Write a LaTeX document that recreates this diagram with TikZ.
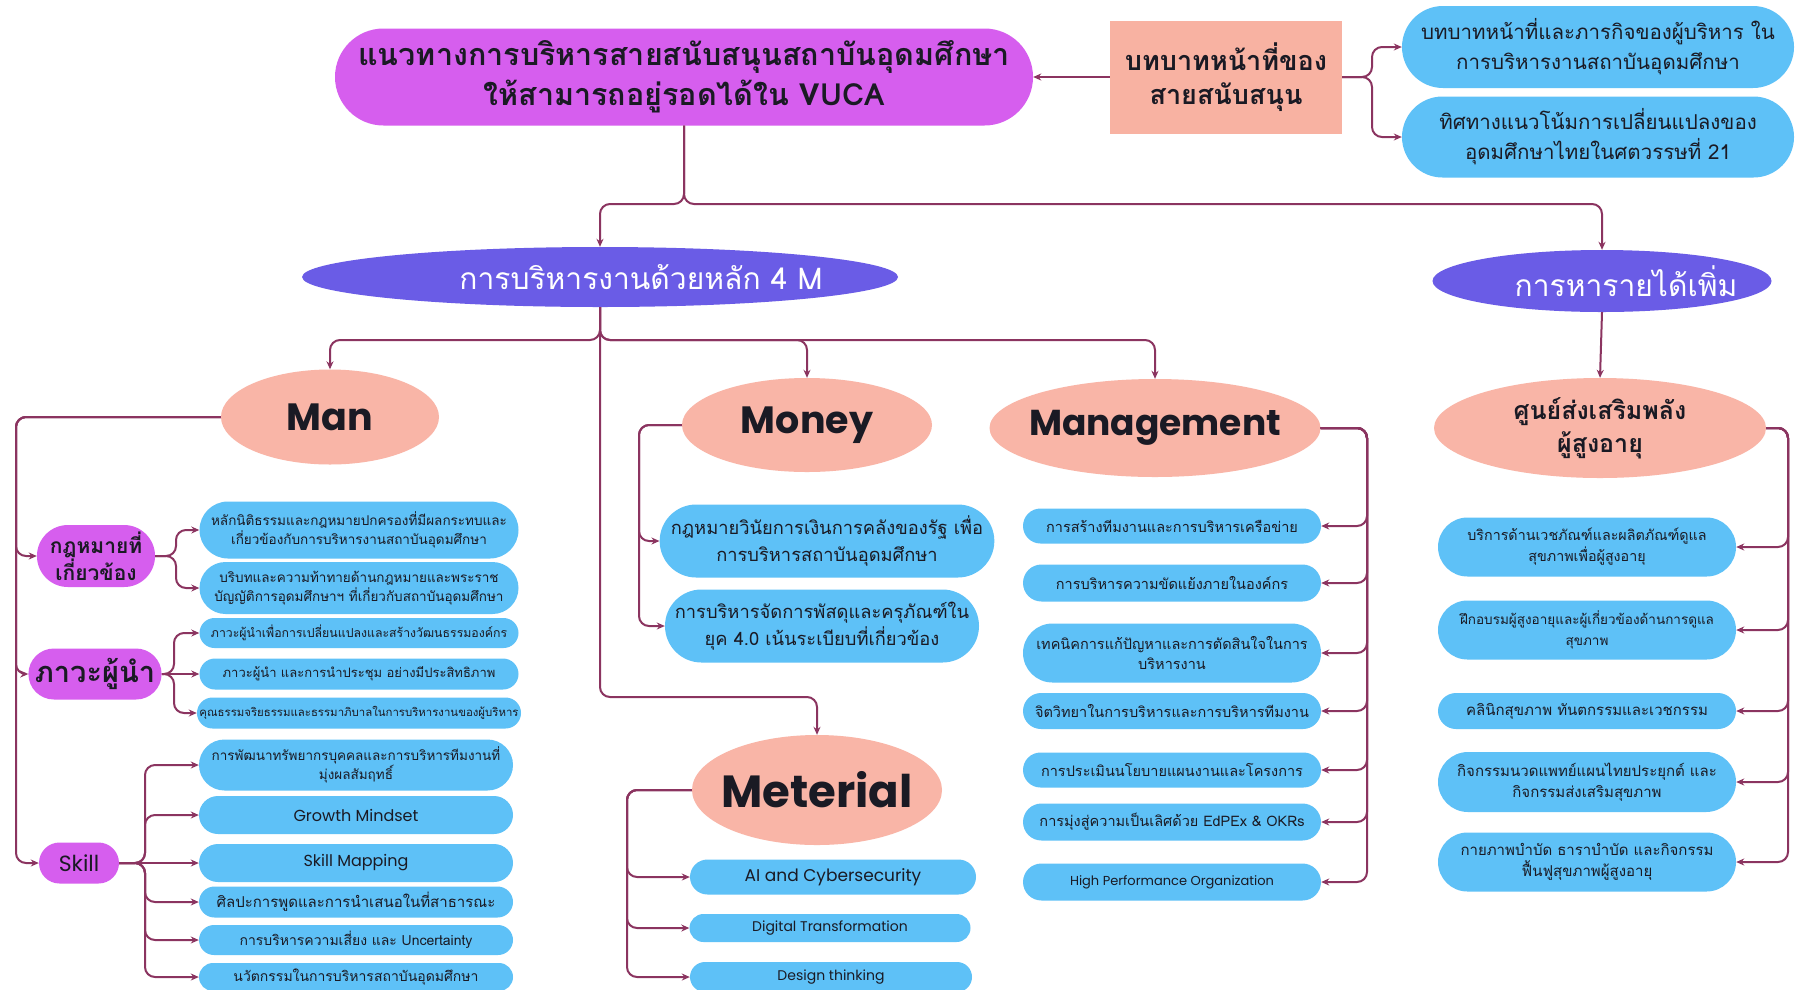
\documentclass[tikz,border=0pt]{standalone}
\usepackage{fontspec}
\usetikzlibrary{shapes.geometric,shapes.misc,arrows.meta}
\newfontfamily\thai[Script=Thai]{Loma}
\newfontfamily\latin{Poppins}
\newcommand\thfs[2]{\thai\fontsize{#1}{#2}\selectfont}
\newcommand\lafs[2]{\latin\fontsize{#1}{#2}\selectfont}
\definecolor{orchid}{HTML}{D65EEE}
\definecolor{skyc}{HTML}{5EC1F7}
\definecolor{violetc}{HTML}{6A5CE6}
\definecolor{salmon}{HTML}{F9B5A7}
\definecolor{salmonbox}{HTML}{F8B2A2}
\definecolor{wirec}{HTML}{8B3460}
\definecolor{ink}{HTML}{1A1A24}
\tikzset{
  wire/.style={draw=wirec, line width=2pt, rounded corners=10pt, -{Stealth[length=8pt,width=7pt]}},
  pillbox/.style={rounded rectangle, inner sep=1pt, align=center, text=ink},
  leaf/.style={pillbox, fill=skyc},
  catpill/.style={pillbox, fill=orchid},
  oval/.style={ellipse, inner sep=0pt, align=center, text=ink},
}
\begin{document}
\begin{tikzpicture}[x=1pt,y=-1pt]
\fill[white] (0,0) rectangle (1798,989);
\useasboundingbox (0,0) rectangle (1798,989);

% ---------- top row ----------
\node[pillbox, fill=orchid, minimum width=700pt, minimum height=97pt, font={\thfs{30.5}{40}\bfseries}] (title) at (684,77)
  {แนวทางการบริหารสายสนับสนุนสถาบันอุดมศึกษา\\ให้สามารถอยู่รอดได้ใน VUCA};
\node[rectangle, fill=salmonbox, minimum width=232pt, minimum height=113pt, align=center, text=ink, font={\thfs{27}{34}\bfseries}] (sup) at (1226,77)
  {บทบาทหน้าที่ของ\\สายสนับสนุน};
\node[leaf, minimum width=394pt, minimum height=82pt, font={\thfs{20.5}{30}}] (r1) at (1598,47)
  {บทบาทหน้าที่และภารกิจของผู้บริหาร ใน\\การบริหารงานสถาบันอุดมศึกษา};
\node[leaf, minimum width=394pt, minimum height=81pt, font={\thfs{20.5}{30}}] (r2) at (1598,137)
  {ทิศทางแนวโน้มการเปลี่ยนแปลงของ\\อุดมศึกษาไทยในศตวรรษที่ 21};

% ---------- second level ----------
\node[oval, fill=violetc, minimum width=596pt, minimum height=60pt, text=white, font={\thfs{30}{36}}] (m4) at (600,277)
  {\makebox[0pt]{\hspace*{82pt}การบริหารงานด้วยหลัก 4 M}};
\node[oval, fill=violetc, minimum width=339pt, minimum height=62pt, text=white, font={\thfs{30}{36}}] (inc) at (1602,281)
  {\makebox[0pt]{\hspace*{48pt}การหารายได้เพิ่ม}};

% ---------- categories ----------
\node[oval, fill=salmon, minimum width=218pt, minimum height=95pt, font={\lafs{38}{44}\bfseries}] (man) at (330,417) {\makebox[0pt]{Man}};
\node[oval, fill=salmon, minimum width=250pt, minimum height=94pt, font={\lafs{38}{44}\bfseries}] (money) at (807,425) {\makebox[0pt]{Money}};
\node[oval, fill=salmon, minimum width=331pt, minimum height=98pt, font={\lafs{36}{44}\bfseries}] (mgmt) at (1155,428) {\makebox[0pt]{Management}};
\node[oval, fill=salmon, minimum width=250pt, minimum height=110pt, font={\lafs{45}{52}\bfseries}] (mat) at (817,790) {\makebox[0pt]{Meterial}};
\node[oval, fill=salmon, minimum width=332pt, minimum height=100pt, font={\thfs{25}{33}\bfseries}] (sen) at (1600,428)
  {ศูนย์ส่งเสริมพลัง\\ผู้สูงอายุ};

% ---------- Man sub-groups ----------
\node[catpill, minimum width=117pt, minimum height=62pt, font={\thfs{21}{26}\bfseries}] (law) at (96,556) {กฎหมายที่\\เกี่ยวข้อง};
\node[catpill, minimum width=114pt, minimum height=51pt, font={\thfs{29}{34}\bfseries}] (lead) at (95,674) {ภาวะผู้นำ};
\node[catpill, minimum width=82pt, minimum height=41pt, font={\lafs{22}{26}}] (skill) at (79,863) {Skill};

\node[leaf, minimum width=321pt, minimum height=57pt, font={\thfs{13.5}{19}}] (l1) at (359,530)
  {หลักนิติธรรมและกฎหมายปกครองที่มีผลกระทบและ\\เกี่ยวข้องกับการบริหารงานสถาบันอุดมศึกษา};
\node[leaf, minimum width=321pt, minimum height=52pt, font={\thfs{13.5}{19}}] (l2) at (359,588)
  {บริบทและความท้าทายด้านกฎหมายและพระราช\\บัญญัติการอุดมศึกษาฯ ที่เกี่ยวกับสถาบันอุดมศึกษา};
\node[leaf, minimum width=321pt, minimum height=30pt, font={\thfs{12.3}{15}}] (l3) at (359,633)
  {ภาวะผู้นำเพื่อการเปลี่ยนแปลงและสร้างวัฒนธรรมองค์กร};
\node[leaf, minimum width=321pt, minimum height=31pt, font={\thfs{13}{16}}] (l4) at (359,674)
  {ภาวะผู้นำ และการนำประชุม อย่างมีประสิทธิภาพ};
\node[leaf, minimum width=321pt, minimum height=31pt, font={\thfs{11.4}{14}}] (l5) at (359,713)
  {คุณธรรมจริยธรรมและธรรมาภิบาลในการบริหารงานของผู้บริหาร};

\node[leaf, minimum width=316pt, minimum height=51pt, font={\thfs{13.5}{19}}] (s1) at (356,765)
  {การพัฒนาทรัพยากรบุคคลและการบริหารทีมงานที่\\มุ่งผลสัมฤทธิ์};
\node[leaf, minimum width=316pt, minimum height=38pt, font={\lafs{16}{20}}] (s2) at (356,815) {Growth Mindset};
\node[leaf, minimum width=316pt, minimum height=38pt, font={\lafs{16}{20}}] (s3) at (356,863) {Skill Mapping};
\node[leaf, minimum width=316pt, minimum height=31pt, font={\thfs{15}{18}}] (s4) at (356,902)
  {ศิลปะการพูดและการนำเสนอในที่สาธารณะ};
\node[leaf, minimum width=316pt, minimum height=30pt, font={\thfs{14}{17}}] (s5) at (356,940)
  {การบริหารความเสี่ยง และ Uncertainty};
\node[leaf, minimum width=316pt, minimum height=28pt, font={\thfs{14}{17}}] (s6) at (356,977)
  {นวัตกรรมในการบริหารสถาบันอุดมศึกษา};

% ---------- Money ----------
\node[leaf, minimum width=326pt, minimum height=73pt, font={\thfs{18.3}{27}}] (mo1) at (827,541)
  {กฎหมายวินัยการเงินการคลังของรัฐ เพื่อ\\การบริหารสถาบันอุดมศึกษา};
\node[leaf, minimum width=316pt, minimum height=73pt, font={\thfs{18.3}{27}}] (mo2) at (822,626)
  {การบริหารจัดการพัสดุและครุภัณฑ์ใน\\ยุค 4.0 เน้นระเบียบที่เกี่ยวข้อง};

% ---------- Meterial ----------
\node[leaf, minimum width=288pt, minimum height=35pt, font={\lafs{17}{20}}] (ma1) at (833,877) {AI and Cybersecurity};
\node[leaf, minimum width=283pt, minimum height=28pt, font={\lafs{14}{17}}] (ma2) at (830,928) {Digital Transformation};
\node[leaf, minimum width=284pt, minimum height=30pt, font={\lafs{14}{17}}] (ma3) at (831,977) {Design thinking};

% ---------- Management ----------
\node[leaf, minimum width=300pt, minimum height=35pt, font={\thfs{14.5}{18}}] (g1) at (1172,526) {การสร้างทีมงานและการบริหารเครือข่าย};
\node[leaf, minimum width=300pt, minimum height=37pt, font={\thfs{14.5}{18}}] (g2) at (1172,583) {การบริหารความขัดแย้งภายในองค์กร};
\node[leaf, minimum width=300pt, minimum height=59pt, font={\thfs{14.5}{20}}] (g3) at (1172,653) {เทคนิคการแก้ปัญหาและการตัดสินใจในการ\\บริหารงาน};
\node[leaf, minimum width=300pt, minimum height=36pt, font={\thfs{14.5}{18}}] (g4) at (1172,711) {จิตวิทยาในการบริหารและการบริหารทีมงาน};
\node[leaf, minimum width=300pt, minimum height=35pt, font={\thfs{14.5}{18}}] (g5) at (1172,770) {การประเมินนโยบายแผนงานและโครงการ};
\node[leaf, minimum width=300pt, minimum height=37pt, font={\thfs{14.5}{18}}] (g6) at (1172,822) {การมุ่งสู่ความเป็นเลิศด้วย EdPEx \& OKRs};
\node[leaf, minimum width=300pt, minimum height=37pt, font={\lafs{13}{16}}] (g7) at (1172,882) {High Performance Organization};

% ---------- Senior wellness centre ----------
\node[leaf, minimum width=300pt, minimum height=59pt, font={\thfs{14.3}{21}}] (h1) at (1587,547) {บริการด้านเวชภัณฑ์และผลิตภัณฑ์ดูแล\\สุขภาพเพื่อผู้สูงอายุ};
\node[leaf, minimum width=300pt, minimum height=59pt, font={\thfs{13.5}{21}}] (h2) at (1587,630) {ฝึกอบรมผู้สูงอายุและผู้เกี่ยวข้องด้านการดูแล\\สุขภาพ};
\node[leaf, minimum width=300pt, minimum height=36pt, font={\thfs{15}{18}}] (h3) at (1587,711) {คลินิกสุขภาพ ทันตกรรมและเวชกรรม};
\node[leaf, minimum width=300pt, minimum height=60pt, font={\thfs{15}{21}}] (h4) at (1587,782) {กิจกรรมนวดแพทย์แผนไทยประยุกต์ และ\\กิจกรรมส่งเสริมสุขภาพ};
\node[leaf, minimum width=300pt, minimum height=59pt, font={\thfs{15}{21}}] (h5) at (1587,862) {กายภาพบำบัด ธาราบำบัด และกิจกรรม\\ฟื้นฟูสุขภาพผู้สูงอายุ};

% ---------- junction points ----------
\coordinate (jt) at (684,204);
\coordinate (j4) at (600,340);
\coordinate (jmat) at (600,697);
\coordinate (jsup) at (1372,77);
\coordinate (jman) at (16,417);
\coordinate (jlaw) at (176,556);
\coordinate (jlead) at (174,674);
\coordinate (jskill) at (145,863);
\coordinate (jmo) at (639,425);
\coordinate (jma) at (627,790);
\coordinate (jmg) at (1367,428);
\coordinate (jsen) at (1788,428);

% ---------- connectors ----------
\draw[wire] (sup.west) -- (title.east);
\draw[wire] (sup.east) -- (jsup) |- (r1.west);
\draw[wire] (sup.east) -- (jsup) |- (r2.west);

\draw[wire] (title.south) -- (jt) -| (m4.north);
\draw[wire] (title.south) -- (jt) -| (inc.north);

\draw[wire] (m4.south) -- (j4) -| (man.north);
\draw[wire] (m4.south) -- (j4) -| (money.north);
\draw[wire] (m4.south) -- (j4) -| (mgmt.north);
\draw[wire] (m4.south) -- (jmat) -| (mat.north);

\draw[wire] (inc.south) -- (sen.north);

\draw[wire] (man.west) -- (jman) |- (law.west);
\draw[wire] (man.west) -- (jman) |- (lead.west);
\draw[wire] (man.west) -- (jman) |- (skill.west);

\foreach \t in {l1,l2} \draw[wire] (law.east) -- (jlaw) |- (\t.west);
\foreach \t in {l3,l5} \draw[wire] (lead.east) -- (jlead) |- (\t.west);
\draw[wire] (lead.east) -- (l4.west);
\foreach \t in {s1,s2,s4,s5,s6} \draw[wire] (skill.east) -- (jskill) |- (\t.west);
\draw[wire] (skill.east) -- (s3.west);

\foreach \t in {mo1,mo2} \draw[wire] (money.west) -- (jmo) |- (\t.west);
\foreach \t in {ma1,ma2,ma3} \draw[wire] (mat.west) -- (jma) |- (\t.west);
\foreach \t in {g1,g2,g3,g4,g5,g6,g7} \draw[wire] (mgmt.east) -- (jmg) |- (\t.east);
\foreach \t in {h1,h2,h3,h4,h5} \draw[wire] (sen.east) -- (jsen) |- (\t.east);
\end{tikzpicture}
\end{document}
